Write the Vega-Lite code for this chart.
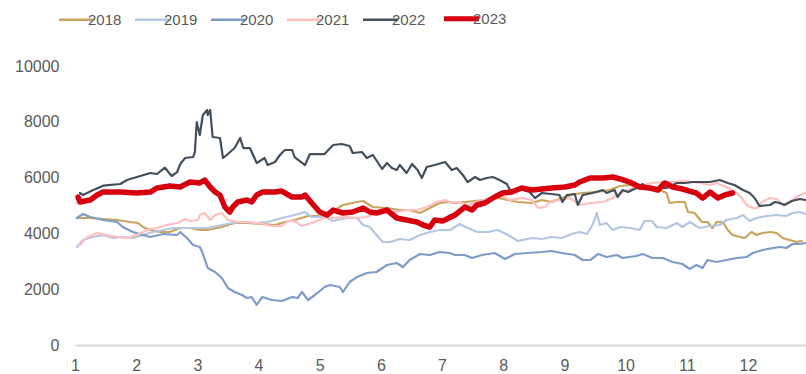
{
  "$schema": "https://vega.github.io/schema/vega-lite/v6.json",
  "autosize": {"type": "none"},
  "width": 731,
  "height": 279,
  "padding": {"left": 75, "top": 66, "right": 0, "bottom": 29},
  "background": "white",
  "config": {"view": {"stroke": null}},
  "datasets": {
    "rows": [
      {"s":"2018","m":1.03,"v":4552},{"s":"2018","m":1.25,"v":4552},{"s":"2018","m":1.46,"v":4516},{"s":"2018","m":1.69,"v":4480},{"s":"2018","m":1.90,"v":4408},{"s":"2018","m":2.03,"v":4373},{"s":"2018","m":2.11,"v":4229},{"s":"2018","m":2.23,"v":4122},{"s":"2018","m":2.39,"v":4050},{"s":"2018","m":2.55,"v":4050},{"s":"2018","m":2.72,"v":4193},{"s":"2018","m":2.88,"v":4193},{"s":"2018","m":3.04,"v":4122},{"s":"2018","m":3.17,"v":4122},{"s":"2018","m":3.40,"v":4229},{"s":"2018","m":3.61,"v":4373},{"s":"2018","m":3.83,"v":4373},{"s":"2018","m":4.06,"v":4337},{"s":"2018","m":4.27,"v":4301},{"s":"2018","m":4.43,"v":4408},{"s":"2018","m":4.59,"v":4480},{"s":"2018","m":4.81,"v":4623},{"s":"2018","m":4.97,"v":4623},{"s":"2018","m":5.08,"v":4588},{"s":"2018","m":5.22,"v":4800},{"s":"2018","m":5.38,"v":5018},{"s":"2018","m":5.61,"v":5125},{"s":"2018","m":5.71,"v":5161},{"s":"2018","m":5.87,"v":4946},{"s":"2018","m":6.10,"v":4910},{"s":"2018","m":6.31,"v":4838},{"s":"2018","m":6.47,"v":4838},{"s":"2018","m":6.64,"v":4731},{"s":"2018","m":6.80,"v":4910},{"s":"2018","m":6.96,"v":5089},{"s":"2018","m":7.13,"v":5125},{"s":"2018","m":7.21,"v":5089},{"s":"2018","m":7.37,"v":5125},{"s":"2018","m":7.54,"v":5161},{"s":"2018","m":7.70,"v":5197},{"s":"2018","m":7.91,"v":5268},{"s":"2018","m":8.08,"v":5197},{"s":"2018","m":8.24,"v":5125},{"s":"2018","m":8.47,"v":5089},{"s":"2018","m":8.63,"v":5197},{"s":"2018","m":8.79,"v":5125},{"s":"2018","m":8.96,"v":5268},{"s":"2018","m":9.17,"v":5412},{"s":"2018","m":9.30,"v":5448},{"s":"2018","m":9.53,"v":5483},{"s":"2018","m":9.74,"v":5555},{"s":"2018","m":9.91,"v":5698},{"s":"2018","m":10.07,"v":5734},{"s":"2018","m":10.23,"v":5663},{"s":"2018","m":10.40,"v":5627},{"s":"2018","m":10.56,"v":5555},{"s":"2018","m":10.67,"v":5448},{"s":"2018","m":10.72,"v":5089},{"s":"2018","m":10.84,"v":5125},{"s":"2018","m":10.97,"v":5125},{"s":"2018","m":11.02,"v":4767},{"s":"2018","m":11.13,"v":4731},{"s":"2018","m":11.25,"v":4408},{"s":"2018","m":11.34,"v":4408},{"s":"2018","m":11.42,"v":4193},{"s":"2018","m":11.49,"v":4408},{"s":"2018","m":11.59,"v":4408},{"s":"2018","m":11.67,"v":4122},{"s":"2018","m":11.75,"v":3942},{"s":"2018","m":11.87,"v":3871},{"s":"2018","m":11.95,"v":3835},{"s":"2018","m":12.06,"v":4050},{"s":"2018","m":12.14,"v":3942},{"s":"2018","m":12.24,"v":4014},{"s":"2018","m":12.36,"v":4050},{"s":"2018","m":12.47,"v":4014},{"s":"2018","m":12.57,"v":3835},{"s":"2018","m":12.68,"v":3763},{"s":"2018","m":12.80,"v":3692},{"s":"2018","m":12.88,"v":3727},
      {"s":"2019","m":1.03,"v":3512},{"s":"2019","m":1.13,"v":3763},{"s":"2019","m":1.29,"v":3871},{"s":"2019","m":1.46,"v":3942},{"s":"2019","m":1.62,"v":3835},{"s":"2019","m":1.78,"v":3871},{"s":"2019","m":1.95,"v":3835},{"s":"2019","m":2.11,"v":3942},{"s":"2019","m":2.27,"v":4050},{"s":"2019","m":2.44,"v":4122},{"s":"2019","m":2.60,"v":4193},{"s":"2019","m":2.76,"v":4193},{"s":"2019","m":2.96,"v":4193},{"s":"2019","m":3.17,"v":4193},{"s":"2019","m":3.40,"v":4301},{"s":"2019","m":3.57,"v":4373},{"s":"2019","m":3.73,"v":4408},{"s":"2019","m":3.94,"v":4373},{"s":"2019","m":4.15,"v":4408},{"s":"2019","m":4.38,"v":4552},{"s":"2019","m":4.59,"v":4659},{"s":"2019","m":4.76,"v":4767},{"s":"2019","m":4.87,"v":4588},{"s":"2019","m":5.08,"v":4588},{"s":"2019","m":5.22,"v":4444},{"s":"2019","m":5.44,"v":4552},{"s":"2019","m":5.61,"v":4552},{"s":"2019","m":5.71,"v":4301},{"s":"2019","m":5.82,"v":4229},{"s":"2019","m":5.93,"v":3942},{"s":"2019","m":6.03,"v":3692},{"s":"2019","m":6.15,"v":3692},{"s":"2019","m":6.31,"v":3799},{"s":"2019","m":6.47,"v":3763},{"s":"2019","m":6.64,"v":3942},{"s":"2019","m":6.80,"v":4050},{"s":"2019","m":6.96,"v":4122},{"s":"2019","m":7.13,"v":4122},{"s":"2019","m":7.29,"v":4337},{"s":"2019","m":7.42,"v":4193},{"s":"2019","m":7.58,"v":4050},{"s":"2019","m":7.75,"v":4050},{"s":"2019","m":7.91,"v":4122},{"s":"2019","m":8.08,"v":3942},{"s":"2019","m":8.24,"v":3727},{"s":"2019","m":8.47,"v":3835},{"s":"2019","m":8.63,"v":3799},{"s":"2019","m":8.79,"v":3871},{"s":"2019","m":8.96,"v":3835},{"s":"2019","m":9.12,"v":3978},{"s":"2019","m":9.25,"v":4050},{"s":"2019","m":9.37,"v":3978},{"s":"2019","m":9.46,"v":4301},{"s":"2019","m":9.53,"v":4731},{"s":"2019","m":9.58,"v":4301},{"s":"2019","m":9.69,"v":4373},{"s":"2019","m":9.79,"v":4122},{"s":"2019","m":9.91,"v":4229},{"s":"2019","m":10.07,"v":4193},{"s":"2019","m":10.23,"v":4122},{"s":"2019","m":10.31,"v":4444},{"s":"2019","m":10.43,"v":4444},{"s":"2019","m":10.51,"v":4229},{"s":"2019","m":10.67,"v":4193},{"s":"2019","m":10.84,"v":4373},{"s":"2019","m":10.93,"v":4229},{"s":"2019","m":11.05,"v":4408},{"s":"2019","m":11.21,"v":4193},{"s":"2019","m":11.38,"v":4265},{"s":"2019","m":11.54,"v":4301},{"s":"2019","m":11.65,"v":4480},{"s":"2019","m":11.82,"v":4552},{"s":"2019","m":11.92,"v":4659},{"s":"2019","m":12.03,"v":4444},{"s":"2019","m":12.14,"v":4552},{"s":"2019","m":12.31,"v":4623},{"s":"2019","m":12.47,"v":4659},{"s":"2019","m":12.63,"v":4623},{"s":"2019","m":12.73,"v":4731},{"s":"2019","m":12.85,"v":4767},{"s":"2019","m":12.94,"v":4695},
      {"s":"2020","m":1.03,"v":4552},{"s":"2020","m":1.13,"v":4695},{"s":"2020","m":1.25,"v":4588},{"s":"2020","m":1.46,"v":4480},{"s":"2020","m":1.69,"v":4408},{"s":"2020","m":1.78,"v":4229},{"s":"2020","m":1.95,"v":4050},{"s":"2020","m":2.11,"v":3942},{"s":"2020","m":2.23,"v":3871},{"s":"2020","m":2.44,"v":3978},{"s":"2020","m":2.67,"v":3942},{"s":"2020","m":2.72,"v":4050},{"s":"2020","m":2.83,"v":3835},{"s":"2020","m":2.93,"v":3584},{"s":"2020","m":3.04,"v":3512},{"s":"2020","m":3.08,"v":3333},{"s":"2020","m":3.17,"v":2760},{"s":"2020","m":3.29,"v":2616},{"s":"2020","m":3.40,"v":2401},{"s":"2020","m":3.50,"v":2043},{"s":"2020","m":3.61,"v":1900},{"s":"2020","m":3.73,"v":1792},{"s":"2020","m":3.81,"v":1684},{"s":"2020","m":3.89,"v":1720},{"s":"2020","m":3.97,"v":1434},{"s":"2020","m":4.06,"v":1720},{"s":"2020","m":4.22,"v":1613},{"s":"2020","m":4.38,"v":1577},{"s":"2020","m":4.55,"v":1720},{"s":"2020","m":4.64,"v":1684},{"s":"2020","m":4.71,"v":1900},{"s":"2020","m":4.81,"v":1613},{"s":"2020","m":4.92,"v":1792},{"s":"2020","m":5.08,"v":2079},{"s":"2020","m":5.17,"v":2150},{"s":"2020","m":5.33,"v":2079},{"s":"2020","m":5.38,"v":1900},{"s":"2020","m":5.49,"v":2258},{"s":"2020","m":5.61,"v":2437},{"s":"2020","m":5.77,"v":2580},{"s":"2020","m":5.93,"v":2616},{"s":"2020","m":6.10,"v":2867},{"s":"2020","m":6.26,"v":2939},{"s":"2020","m":6.36,"v":2796},{"s":"2020","m":6.47,"v":3046},{"s":"2020","m":6.64,"v":3261},{"s":"2020","m":6.80,"v":3226},{"s":"2020","m":6.96,"v":3333},{"s":"2020","m":7.13,"v":3297},{"s":"2020","m":7.21,"v":3226},{"s":"2020","m":7.37,"v":3226},{"s":"2020","m":7.49,"v":3118},{"s":"2020","m":7.65,"v":3226},{"s":"2020","m":7.86,"v":3297},{"s":"2020","m":8.03,"v":3082},{"s":"2020","m":8.19,"v":3261},{"s":"2020","m":8.40,"v":3297},{"s":"2020","m":8.63,"v":3333},{"s":"2020","m":8.79,"v":3369},{"s":"2020","m":8.96,"v":3297},{"s":"2020","m":9.17,"v":3226},{"s":"2020","m":9.30,"v":3046},{"s":"2020","m":9.42,"v":3046},{"s":"2020","m":9.55,"v":3261},{"s":"2020","m":9.69,"v":3154},{"s":"2020","m":9.86,"v":3226},{"s":"2020","m":9.95,"v":3118},{"s":"2020","m":10.18,"v":3190},{"s":"2020","m":10.28,"v":3261},{"s":"2020","m":10.44,"v":3118},{"s":"2020","m":10.61,"v":3118},{"s":"2020","m":10.77,"v":2975},{"s":"2020","m":10.93,"v":2903},{"s":"2020","m":11.05,"v":2724},{"s":"2020","m":11.16,"v":2867},{"s":"2020","m":11.26,"v":2760},{"s":"2020","m":11.34,"v":3046},{"s":"2020","m":11.49,"v":2975},{"s":"2020","m":11.65,"v":3046},{"s":"2020","m":11.82,"v":3118},{"s":"2020","m":11.98,"v":3154},{"s":"2020","m":12.08,"v":3297},{"s":"2020","m":12.24,"v":3405},{"s":"2020","m":12.41,"v":3476},{"s":"2020","m":12.52,"v":3512},{"s":"2020","m":12.63,"v":3476},{"s":"2020","m":12.73,"v":3620},{"s":"2020","m":12.85,"v":3620},{"s":"2020","m":12.94,"v":3655},
      {"s":"2021","m":1.08,"v":3584},{"s":"2021","m":1.20,"v":3871},{"s":"2021","m":1.36,"v":4014},{"s":"2021","m":1.52,"v":3942},{"s":"2021","m":1.69,"v":3871},{"s":"2021","m":1.85,"v":3835},{"s":"2021","m":2.01,"v":3942},{"s":"2021","m":2.18,"v":4122},{"s":"2021","m":2.34,"v":4193},{"s":"2021","m":2.50,"v":4301},{"s":"2021","m":2.67,"v":4373},{"s":"2021","m":2.80,"v":4516},{"s":"2021","m":2.88,"v":4444},{"s":"2021","m":3.01,"v":4480},{"s":"2021","m":3.04,"v":4659},{"s":"2021","m":3.12,"v":4731},{"s":"2021","m":3.21,"v":4480},{"s":"2021","m":3.29,"v":4659},{"s":"2021","m":3.40,"v":4731},{"s":"2021","m":3.50,"v":4480},{"s":"2021","m":3.66,"v":4408},{"s":"2021","m":3.83,"v":4408},{"s":"2021","m":3.99,"v":4373},{"s":"2021","m":4.22,"v":4265},{"s":"2021","m":4.38,"v":4265},{"s":"2021","m":4.48,"v":4444},{"s":"2021","m":4.59,"v":4444},{"s":"2021","m":4.71,"v":4265},{"s":"2021","m":4.87,"v":4373},{"s":"2021","m":5.08,"v":4552},{"s":"2021","m":5.22,"v":4552},{"s":"2021","m":5.44,"v":4588},{"s":"2021","m":5.61,"v":4552},{"s":"2021","m":5.77,"v":4588},{"s":"2021","m":5.93,"v":4731},{"s":"2021","m":6.10,"v":4767},{"s":"2021","m":6.26,"v":4767},{"s":"2021","m":6.42,"v":4838},{"s":"2021","m":6.59,"v":4838},{"s":"2021","m":6.75,"v":4946},{"s":"2021","m":6.92,"v":5125},{"s":"2021","m":7.05,"v":5197},{"s":"2021","m":7.16,"v":5089},{"s":"2021","m":7.26,"v":5125},{"s":"2021","m":7.42,"v":5018},{"s":"2021","m":7.58,"v":5125},{"s":"2021","m":7.81,"v":5304},{"s":"2021","m":7.98,"v":5340},{"s":"2021","m":8.11,"v":5197},{"s":"2021","m":8.30,"v":5268},{"s":"2021","m":8.47,"v":5197},{"s":"2021","m":8.57,"v":4910},{"s":"2021","m":8.68,"v":4946},{"s":"2021","m":8.79,"v":5161},{"s":"2021","m":8.96,"v":5197},{"s":"2021","m":9.09,"v":5268},{"s":"2021","m":9.25,"v":5018},{"s":"2021","m":9.42,"v":5089},{"s":"2021","m":9.63,"v":5125},{"s":"2021","m":9.79,"v":5268},{"s":"2021","m":9.95,"v":5483},{"s":"2021","m":10.12,"v":5627},{"s":"2021","m":10.28,"v":5734},{"s":"2021","m":10.44,"v":5806},{"s":"2021","m":10.61,"v":5842},{"s":"2021","m":10.77,"v":5842},{"s":"2021","m":10.93,"v":5878},{"s":"2021","m":11.10,"v":5842},{"s":"2021","m":11.21,"v":5806},{"s":"2021","m":11.38,"v":5734},{"s":"2021","m":11.49,"v":5806},{"s":"2021","m":11.65,"v":5663},{"s":"2021","m":11.82,"v":5448},{"s":"2021","m":11.90,"v":5268},{"s":"2021","m":11.98,"v":5018},{"s":"2021","m":12.08,"v":4910},{"s":"2021","m":12.16,"v":4910},{"s":"2021","m":12.23,"v":5125},{"s":"2021","m":12.36,"v":5268},{"s":"2021","m":12.47,"v":5232},{"s":"2021","m":12.57,"v":5018},{"s":"2021","m":12.68,"v":5125},{"s":"2021","m":12.80,"v":5304},{"s":"2021","m":12.93,"v":5448},
      {"s":"2022","m":1.08,"v":5448},{"s":"2022","m":1.13,"v":5376},{"s":"2022","m":1.29,"v":5550},{"s":"2022","m":1.46,"v":5710},{"s":"2022","m":1.74,"v":5770},{"s":"2022","m":1.85,"v":5914},{"s":"2022","m":2.23,"v":6165},{"s":"2022","m":2.34,"v":6129},{"s":"2022","m":2.47,"v":6355},{"s":"2022","m":2.58,"v":6057},{"s":"2022","m":2.67,"v":6200},{"s":"2022","m":2.72,"v":6487},{"s":"2022","m":2.80,"v":6702},{"s":"2022","m":2.93,"v":6738},{"s":"2022","m":2.96,"v":6917},{"s":"2022","m":2.99,"v":7992},{"s":"2022","m":3.04,"v":7526},{"s":"2022","m":3.09,"v":8243},{"s":"2022","m":3.16,"v":8422},{"s":"2022","m":3.17,"v":8243},{"s":"2022","m":3.21,"v":8422},{"s":"2022","m":3.25,"v":7455},{"s":"2022","m":3.37,"v":7419},{"s":"2022","m":3.42,"v":6702},{"s":"2022","m":3.48,"v":6810},{"s":"2022","m":3.61,"v":7060},{"s":"2022","m":3.70,"v":7419},{"s":"2022","m":3.75,"v":7060},{"s":"2022","m":3.86,"v":7060},{"s":"2022","m":3.97,"v":6523},{"s":"2022","m":4.10,"v":6702},{"s":"2022","m":4.15,"v":6451},{"s":"2022","m":4.27,"v":6559},{"s":"2022","m":4.35,"v":6810},{"s":"2022","m":4.43,"v":6989},{"s":"2022","m":4.55,"v":6989},{"s":"2022","m":4.59,"v":6738},{"s":"2022","m":4.76,"v":6451},{"s":"2022","m":4.84,"v":6845},{"s":"2022","m":5.08,"v":6845},{"s":"2022","m":5.22,"v":7168},{"s":"2022","m":5.36,"v":7204},{"s":"2022","m":5.49,"v":7132},{"s":"2022","m":5.54,"v":6881},{"s":"2022","m":5.69,"v":6917},{"s":"2022","m":5.77,"v":6702},{"s":"2022","m":5.87,"v":6810},{"s":"2022","m":6.02,"v":6308},{"s":"2022","m":6.10,"v":6523},{"s":"2022","m":6.18,"v":6344},{"s":"2022","m":6.26,"v":6272},{"s":"2022","m":6.31,"v":6451},{"s":"2022","m":6.42,"v":6165},{"s":"2022","m":6.51,"v":6487},{"s":"2022","m":6.60,"v":6272},{"s":"2022","m":6.67,"v":5985},{"s":"2022","m":6.75,"v":6380},{"s":"2022","m":6.88,"v":6451},{"s":"2022","m":7.05,"v":6559},{"s":"2022","m":7.16,"v":6272},{"s":"2022","m":7.24,"v":6344},{"s":"2022","m":7.34,"v":6093},{"s":"2022","m":7.42,"v":5842},{"s":"2022","m":7.54,"v":6021},{"s":"2022","m":7.62,"v":5914},{"s":"2022","m":7.73,"v":5985},{"s":"2022","m":7.83,"v":6021},{"s":"2022","m":7.94,"v":5914},{"s":"2022","m":8.06,"v":5770},{"s":"2022","m":8.11,"v":5555},{"s":"2022","m":8.27,"v":5591},{"s":"2022","m":8.43,"v":5483},{"s":"2022","m":8.52,"v":5268},{"s":"2022","m":8.63,"v":5448},{"s":"2022","m":8.79,"v":5412},{"s":"2022","m":8.92,"v":5376},{"s":"2022","m":8.97,"v":5125},{"s":"2022","m":9.04,"v":5376},{"s":"2022","m":9.17,"v":5412},{"s":"2022","m":9.22,"v":5018},{"s":"2022","m":9.30,"v":5376},{"s":"2022","m":9.46,"v":5448},{"s":"2022","m":9.63,"v":5555},{"s":"2022","m":9.69,"v":5448},{"s":"2022","m":9.82,"v":5555},{"s":"2022","m":9.87,"v":5304},{"s":"2022","m":9.95,"v":5555},{"s":"2022","m":10.04,"v":5483},{"s":"2022","m":10.18,"v":5627},{"s":"2022","m":10.28,"v":5770},{"s":"2022","m":10.40,"v":5555},{"s":"2022","m":10.51,"v":5627},{"s":"2022","m":10.67,"v":5627},{"s":"2022","m":10.84,"v":5806},{"s":"2022","m":10.97,"v":5806},{"s":"2022","m":11.10,"v":5842},{"s":"2022","m":11.26,"v":5842},{"s":"2022","m":11.38,"v":5842},{"s":"2022","m":11.54,"v":5914},{"s":"2022","m":11.67,"v":5806},{"s":"2022","m":11.78,"v":5734},{"s":"2022","m":11.92,"v":5555},{"s":"2022","m":12.03,"v":5448},{"s":"2022","m":12.11,"v":5268},{"s":"2022","m":12.19,"v":4982},{"s":"2022","m":12.36,"v":5018},{"s":"2022","m":12.44,"v":5125},{"s":"2022","m":12.52,"v":5089},{"s":"2022","m":12.60,"v":5018},{"s":"2022","m":12.72,"v":5161},{"s":"2022","m":12.85,"v":5232},{"s":"2022","m":12.94,"v":5197},
      {"s":"2023","m":1.05,"v":5304},{"s":"2023","m":1.08,"v":5125},{"s":"2023","m":1.25,"v":5197},{"s":"2023","m":1.36,"v":5376},{"s":"2023","m":1.46,"v":5483},{"s":"2023","m":1.74,"v":5483},{"s":"2023","m":2.01,"v":5448},{"s":"2023","m":2.23,"v":5483},{"s":"2023","m":2.34,"v":5627},{"s":"2023","m":2.55,"v":5698},{"s":"2023","m":2.72,"v":5663},{"s":"2023","m":2.88,"v":5842},{"s":"2023","m":3.04,"v":5806},{"s":"2023","m":3.12,"v":5914},{"s":"2023","m":3.21,"v":5663},{"s":"2023","m":3.29,"v":5483},{"s":"2023","m":3.37,"v":5376},{"s":"2023","m":3.45,"v":4946},{"s":"2023","m":3.53,"v":4767},{"s":"2023","m":3.58,"v":4946},{"s":"2023","m":3.66,"v":5125},{"s":"2023","m":3.81,"v":5197},{"s":"2023","m":3.89,"v":5125},{"s":"2023","m":3.97,"v":5376},{"s":"2023","m":4.07,"v":5483},{"s":"2023","m":4.27,"v":5483},{"s":"2023","m":4.38,"v":5519},{"s":"2023","m":4.55,"v":5304},{"s":"2023","m":4.71,"v":5304},{"s":"2023","m":4.76,"v":5376},{"s":"2023","m":4.87,"v":5089},{"s":"2023","m":5.00,"v":4767},{"s":"2023","m":5.12,"v":4659},{"s":"2023","m":5.22,"v":4838},{"s":"2023","m":5.38,"v":4731},{"s":"2023","m":5.54,"v":4767},{"s":"2023","m":5.71,"v":4910},{"s":"2023","m":5.82,"v":4767},{"s":"2023","m":5.93,"v":4731},{"s":"2023","m":6.10,"v":4838},{"s":"2023","m":6.26,"v":4552},{"s":"2023","m":6.42,"v":4480},{"s":"2023","m":6.59,"v":4408},{"s":"2023","m":6.69,"v":4301},{"s":"2023","m":6.80,"v":4229},{"s":"2023","m":6.88,"v":4480},{"s":"2023","m":7.01,"v":4444},{"s":"2023","m":7.21,"v":4659},{"s":"2023","m":7.37,"v":4946},{"s":"2023","m":7.49,"v":4838},{"s":"2023","m":7.57,"v":5018},{"s":"2023","m":7.70,"v":5089},{"s":"2023","m":7.86,"v":5304},{"s":"2023","m":7.99,"v":5448},{"s":"2023","m":8.14,"v":5483},{"s":"2023","m":8.30,"v":5627},{"s":"2023","m":8.47,"v":5555},{"s":"2023","m":8.63,"v":5591},{"s":"2023","m":8.79,"v":5627},{"s":"2023","m":9.01,"v":5663},{"s":"2023","m":9.17,"v":5734},{"s":"2023","m":9.25,"v":5842},{"s":"2023","m":9.42,"v":5985},{"s":"2023","m":9.63,"v":5985},{"s":"2023","m":9.79,"v":6021},{"s":"2023","m":9.91,"v":5950},{"s":"2023","m":10.07,"v":5842},{"s":"2023","m":10.23,"v":5663},{"s":"2023","m":10.40,"v":5627},{"s":"2023","m":10.53,"v":5555},{"s":"2023","m":10.64,"v":5806},{"s":"2023","m":10.77,"v":5663},{"s":"2023","m":10.93,"v":5591},{"s":"2023","m":11.10,"v":5483},{"s":"2023","m":11.16,"v":5448},{"s":"2023","m":11.26,"v":5268},{"s":"2023","m":11.38,"v":5483},{"s":"2023","m":11.51,"v":5268},{"s":"2023","m":11.62,"v":5376},{"s":"2023","m":11.75,"v":5448}
    ]
  },
  "data": {"name": "rows"},
  "mark": {"type": "line", "strokeJoin": "round", "strokeCap": "round", "interpolate": "linear"},
  "encoding": {
    "x": {
      "field": "m", "type": "quantitative",
      "scale": {"domain": [1, 12.95], "nice": false, "zero": false},
      "axis": {
        "title": null, "values": [1,2,3,4,5,6,7,8,9,10,11,12], "format": "d",
        "grid": false, "ticks": false, "domainColor": "#D9D9D9", "domainWidth": 2,
        "labelFont": "Liberation Sans", "labelFontSize": 16, "labelColor": "#595959",
        "labelPadding": 12, "labelFlush": false
      }
    },
    "y": {
      "field": "v", "type": "quantitative",
      "scale": {"domain": [0, 10000], "nice": false},
      "axis": {
        "title": null, "values": [0,2000,4000,6000,8000,10000], "format": "d",
        "grid": false, "ticks": false, "domain": false,
        "labelFont": "Liberation Sans", "labelFontSize": 16, "labelColor": "#595959",
        "labelPadding": 16
      }
    },
    "color": {
      "field": "s", "type": "nominal",
      "scale": {
        "domain": ["2018","2019","2020","2021","2022","2023"],
        "range": ["#C9A45C","#B4C6E0","#7F9CC9","#FFBFBF","#444F5D","#D6000F"]
      },
      "legend": {
        "title": null, "orient": "none", "direction": "horizontal", "columns": 6,
        "legendX": -6, "legendY": -55,
        "symbolType": "stroke", "symbolSize": 1225, "symbolStrokeWidth": 2.5,
        "labelFont": "Liberation Sans", "labelFontSize": 15,
        "labelColor": "#595959", "labelOffset": 4,
        "columnPadding": 8,
        "encode": {"symbols": {"update": {"strokeWidth": {"signal": "datum.value === '2023' ? 5 : 2.5"}}}}
      }
    },
    "strokeWidth": {"condition": {"test": "datum.s === '2023'", "value": 5.5}, "value": 2.2}
  }
}
